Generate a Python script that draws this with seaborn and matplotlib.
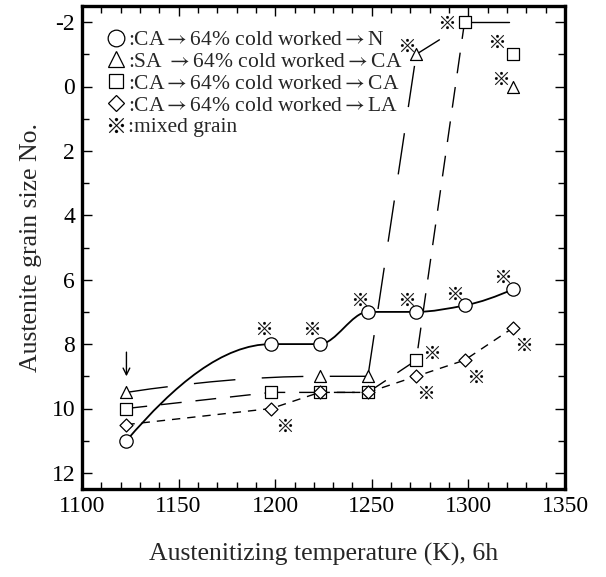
import numpy as np
import pandas as pd
import matplotlib
matplotlib.use("Agg")
import matplotlib.pyplot as plt
from matplotlib.path import Path
from matplotlib.patches import PathPatch
from matplotlib.lines import Line2D
from matplotlib.textpath import TextPath
from matplotlib.font_manager import FontProperties
import seaborn as sns

# ---------------- data ----------------
temps = [1123, 1198, 1223, 1248, 1273, 1298, 1323]
n_grain = [11.0, 8.0, 8.0, 7.0, 7.0, 6.8, 6.3]            # O : CA -> cold worked -> N
sa_temps = [1123, 1223, 1248, 1273, 1323]
sa_grain = [9.5, 9.0, 9.0, -1.0, 0.0]                     # triangle : SA -> CA
ca_grain = [10.0, 9.5, 9.5, 9.5, 8.5, -2.0, -1.0]         # square : CA -> CA
la_grain = [10.5, 10.0, 9.5, 9.5, 9.0, 8.5, 7.5]          # diamond : CA -> LA
mixed_t = [1194, 1219, 1244, 1268, 1293, 1318, 1205, 1278, 1281, 1304, 1329,
           1289, 1268, 1315, 1317]
mixed_g = [7.5, 7.5, 6.6, 6.6, 6.4, 5.9, 10.5, 9.5, 8.25, 9.0, 8.0,
           -2.0, -1.3, -1.4, -0.25]
# short solid leader segments at the top
sa_tail_t = [1273, 1285]
sa_tail_g = [-1.0, -1.45]
ca_tail_t = [1298, 1321]
ca_tail_g = [-2.0, -2.0]

ARROW = r"$\rightarrow$"
legend_labels = [":CA" + ARROW + "64% cold worked" + ARROW + "N",
                 ":SA " + ARROW + "64% cold worked" + ARROW + "CA",
                 ":CA" + ARROW + "64% cold worked" + ARROW + "CA",
                 ":CA" + ARROW + "64% cold worked" + ARROW + "LA",
                 ":mixed grain"]
xticks = [1100, 1150, 1200, 1250, 1300, 1350]
yticks = [-2, 0, 2, 4, 6, 8, 10, 12]

# ---------------- style ----------------
sns.set_theme(style="ticks")
plt.rcParams["font.family"] = ["Liberation Serif", "DejaVu Sans"]
plt.rcParams["mathtext.fontset"] = "stix"
plt.rcParams["axes.unicode_minus"] = False
plt.rcParams["lines.scale_dashes"] = False

fig = plt.figure(figsize=(6.06, 5.77), dpi=100)
ax = fig.add_axes([82 / 606, 88 / 577, 483 / 606, 483 / 577])

# reference-mark marker (※) built from a font glyph, centred on the origin
_tp = TextPath((0, 0), "\u203b", size=10,
               prop=FontProperties(family=["Noto Sans CJK JP", "DejaVu Sans"]))
_v = _tp.vertices.copy()
_bb = _tp.get_extents()
_v[:, 0] -= (_bb.x0 + _bb.x1) / 2
_v[:, 1] -= (_bb.y0 + _bb.y1) / 2
REF_MARK = Path(_v, _tp.codes)


def pchip_slopes(x, y):
    x = np.asarray(x, float)
    y = np.asarray(y, float)
    h = np.diff(x)
    d = np.diff(y) / h
    n = len(x)
    m = np.zeros(n)
    for k in range(1, n - 1):
        if d[k - 1] * d[k] > 0:
            w1 = 2 * h[k] + h[k - 1]
            w2 = h[k] + 2 * h[k - 1]
            m[k] = (w1 + w2) / (w1 / d[k - 1] + w2 / d[k])

    def end(h0, h1, d0, d1):
        mm = ((2 * h0 + h1) * d0 - h0 * d1) / (h0 + h1)
        if np.sign(mm) != np.sign(d0):
            mm = 0.0
        elif np.sign(d0) != np.sign(d1) and abs(mm) > 3 * abs(d0):
            mm = 3 * d0
        return mm

    if n > 2:
        m[0] = end(h[0], h[1], d[0], d[1])
        m[-1] = end(h[-1], h[-2], d[-1], d[-2])
    else:
        m[:] = d[0]
    return m


def smooth_curve(ax, x, y, **kw):
    m = pchip_slopes(x, y)
    verts = [(x[0], y[0])]
    codes = [Path.MOVETO]
    for i in range(len(x) - 1):
        h = x[i + 1] - x[i]
        verts += [(x[i] + h / 3, y[i] + m[i] * h / 3),
                  (x[i + 1] - h / 3, y[i + 1] - m[i + 1] * h / 3),
                  (x[i + 1], y[i + 1])]
        codes += [Path.CURVE4] * 3
    ax.add_patch(PathPatch(Path(verts, codes), facecolor="none",
                           edgecolor="black", **kw))


# ---------------- lines ----------------
smooth_curve(ax, temps, n_grain, lw=1.3, zorder=2)
# triangles: smooth low part then straight jump
smooth_curve(ax, sa_temps[:3], sa_grain[:3], lw=1.0,
             linestyle=(0, (30, 19)), zorder=2)
sns.lineplot(x=sa_temps[2:4], y=sa_grain[2:4], ax=ax, color="black", lw=1.0,
             sort=False, estimator=None, zorder=2)
ax.lines[-1].set_linestyle((0, (30, 19)))
sns.lineplot(x=sa_tail_t, y=sa_tail_g, ax=ax, color="black", lw=1.0,
             sort=False, estimator=None, zorder=2)
# squares
sns.lineplot(x=temps[:6], y=ca_grain[:6], ax=ax, color="black", lw=1.0,
             sort=False, estimator=None, zorder=2)
ax.lines[-1].set_linestyle((0, (15, 10)))
sns.lineplot(x=ca_tail_t, y=ca_tail_g, ax=ax, color="black", lw=1.0,
             sort=False, estimator=None, zorder=2)
# diamonds
sns.lineplot(x=temps, y=la_grain, ax=ax, color="black", lw=1.0,
             sort=False, estimator=None, zorder=2)
ax.lines[-1].set_linestyle((0, (6, 5)))

# ---------------- markers ----------------
mk = dict(color="white", edgecolor="black", linewidth=0.9, zorder=5, ax=ax,
          legend=False)
sns.scatterplot(x=temps, y=ca_grain, marker="s", s=8.0 ** 2, **mk)
sns.scatterplot(x=temps, y=la_grain, marker="D", s=6.6 ** 2, **mk)
sns.scatterplot(x=sa_temps, y=sa_grain, marker="^", s=8.6 ** 2, **mk)
sns.scatterplot(x=temps, y=n_grain, marker="o", s=9.6 ** 2, **mk)
sns.scatterplot(x=mixed_t, y=mixed_g, marker=REF_MARK, s=13 ** 2,
                color="black", edgecolor="black", linewidth=0.15, zorder=6,
                ax=ax, legend=False)

# arrow above the first points
ax.annotate("", xy=(temps[0], sa_grain[0] - 0.5), xytext=(temps[0], sa_grain[0] - 1.25),
            arrowprops=dict(arrowstyle="->", lw=1.0, color="black",
                            mutation_scale=12, shrinkA=0, shrinkB=0))

# ---------------- axes ----------------
ax.set_xlim(1100, 1350)
ax.set_ylim(12.5, -2.5)
ax.set_xticks(xticks)
ax.set_xticklabels([str(t) for t in xticks])
ax.set_yticks(yticks)
ax.set_yticklabels([str(t) for t in yticks])
ax.set_xticks(np.arange(1110, 1350, 10), minor=True)
ax.set_yticks(np.arange(-1, 13, 2), minor=True)
ax.tick_params(which="both", direction="in", top=True, right=True,
               colors="black", width=1.0, labelsize=17, pad=5)
ax.tick_params(which="major", length=7.5)
ax.tick_params(which="minor", length=5)
for sp in ax.spines.values():
    sp.set_linewidth(2.4)
    sp.set_color("black")
ax.set_xlabel("Austenitizing temperature (K), 6h", fontsize=18.5, labelpad=19)
ax.set_ylabel("Austenite grain size No.", fontsize=18.5, labelpad=7)

# ---------------- legend ----------------
hk = dict(ls="none", mfc="white", mec="black", mew=0.9)
handles = [Line2D([], [], marker="o", ms=12, **hk),
           Line2D([], [], marker="^", ms=11.5, **hk),
           Line2D([], [], marker="s", ms=9.5, **hk),
           Line2D([], [], marker="D", ms=8.2, **hk),
           Line2D([], [], marker=REF_MARK, ms=15, ls="none", color="black",
                  mec="black", mew=0.15)]
ax.legend(handles, legend_labels, loc="upper left", bbox_to_anchor=(0.05, 0.95),
          frameon=False, fontsize=15.5, handlelength=0.9, handletextpad=0.1,
          labelspacing=0.08, borderaxespad=0, borderpad=0)

fig.savefig("out.png", dpi=100)
